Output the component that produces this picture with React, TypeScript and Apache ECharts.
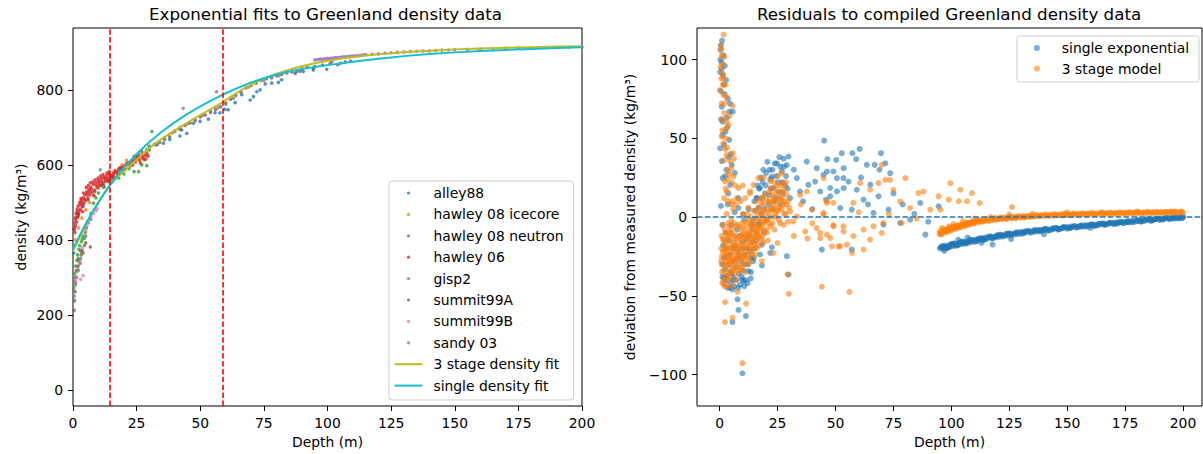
import React, { useEffect, useRef } from "react";
import * as echarts from "echarts";

const FONT = "DejaVu Sans, Liberation Sans, sans-serif";

// ---------- ticks ----------
const leftXTicks = [0, 25, 50, 75, 100, 125, 150, 175, 200];
const leftYTicks = [0, 200, 400, 600, 800];
const rightXTicks = [0, 25, 50, 75, 100, 125, 150, 175, 200];
const rightYTicks = [-100, -50, 0, 50, 100];
const transitionDepths = [14.6, 58.8];

// ---------- left panel: density data [depth m, density kg/m3] ----------
const alley88 = [[0.3,365],[2,470],[4,490],[6,507],[8.6,529],[11,545],[15,565],[18,585],[22,605],[26,625],[29,640],[32.9,653],[35.5,658],[38,668],[42.0,677],[42.7,693],[44.7,684],[47.3,711],[49.9,716],[53.2,722],[55.8,739],[57.7,739],[59.7,748],[61.0,747],[63.7,766],[66.3,787],[69.6,773],[70.9,782],[72.2,795],[73.5,800],[75.5,816],[78.1,818],[80.7,820],[82.0,827],[87.3,844],[89.2,850],[90.5,849],[94.4,853],[94.5,858],[99.7,855],[101.7,876],[105,871]];
const hawley08Icecore = [[1.0,400],[2.2,432],[3.5,458],[5.0,480],[6.5,500],[8.0,520],[10.0,538],[12.4,565],[14.0,556],[16.0,580],[17.5,575],[19.2,600],[21.0,612],[22.5,603],[24.5,624],[26.0,612],[27.5,630],[29.0,622]];
const hawley08Neutron = [[0.3,272],[0.5,290],[0.7,310],[0.9,300],[1.1,330],[1.3,318],[1.5,345],[1.8,360],[2.0,350],[2.3,375],[2.6,385],[3.0,370],[3.3,395],[3.6,402],[4.0,410],[4.4,404],[4.8,420],[5.2,432],[6.0,446],[7.0,470],[8.0,498],[9.0,512],[10.0,525],[12.0,546],[14.0,556],[16.0,568],[18.0,565],[20.0,576],[22.0,590],[24.0,582],[25.8,582],[25.1,622],[27.0,600],[28.0,614],[29.0,598],[30.0,640],[31.0,689]];
const hawley06 = [[0.4,428],[0.5,445],[0.7,420],[0.9,455],[1.0,438],[1.2,470],[1.4,448],[1.6,482],[1.8,460],[2.0,490],[2.2,470],[2.5,478],[2.8,495],[3.0,482],[3.3,505],[3.6,490],[4.0,512],[4.3,498],[4.7,520],[5.0,505],[5.4,528],[5.8,512],[6.2,535],[6.6,520],[7.0,540],[7.5,527],[8.0,548],[8.5,533],[9.0,552],[9.5,540],[10.0,558],[10.5,546],[11.0,562],[11.5,550],[12.0,566],[12.5,555],[13.0,570],[13.5,558],[14.0,575],[14.5,562],[15.0,572],[15.5,565],[16.0,578],[17.0,582],[18.0,588],[19.0,592],[20.0,597],[21.0,600],[22.0,606],[23.0,610],[24.0,612],[25.0,618],[26.0,614],[27.0,622],[28.0,625],[29.0,630],[20.5,588],[23.5,600],[26.5,605],[28.5,615],[17.5,573],[12.2,542],[8.2,518],[3.8,475],[0.6,432],[1.1,460],[1.5,475],[2.1,465],[2.6,500],[3.1,510],[3.5,498],[4.1,525],[4.5,508],[5.2,540],[5.6,522],[6.0,545],[6.4,528],[6.8,552],[7.2,535],[7.8,555],[8.7,560],[9.2,545],[9.8,565],[10.2,552],[10.8,570],[11.3,556],[11.8,574],[12.8,562],[13.3,578],[13.8,565],[14.2,582],[14.8,570],[15.8,572],[16.5,585],[17.3,578],[18.5,592],[19.5,586],[21.5,604],[22.5,598],[24.5,608],[25.5,622],[27.5,617],[29.5,624]];
const gisp2 = [[95,880],[96,881],[97,882],[98,882],[99,883],[100,884],[101,884],[102,885],[103,886],[104,886],[105,887],[106,888],[107,888],[108,889],[109,890],[110,890],[111,891],[112,891],[113,892],[114,893],[115,894],[117.5,895],[120,896],[122.5,897.5],[125,899],[127.5,900],[130,901],[132.5,902],[135,903],[137.5,903.5],[140,904],[142.5,905],[145,906],[147.5,906.5],[150,907],[155,908],[160,909],[165,910],[170,911],[175,911.5],[180,912],[185,912.5],[190,913],[195,913.5],[200,914]];
const summit99A = [[0.4,212],[0.6,238],[0.8,262],[1.0,285],[1.3,300],[1.6,318],[2.0,330],[2.4,345],[2.8,338],[3.2,360],[3.6,372],[4.0,365],[4.5,385],[5.0,392],[6.8,381],[18,590],[21,603],[24,622],[27,636],[30,648],[32,655],[34,660],[36,668],[38,675],[40,690],[42,695],[44,705],[46,712],[48,718],[50,728],[52,733],[54,740],[56,748],[58,755],[60,765],[62,775],[64,785],[66,795],[68,806],[70,812],[72,820],[74,825],[76,830],[78,835],[80,838],[82,842],[84,845],[86,848],[88,850],[90,856],[92,860],[95,862],[98,866],[101,870],[104,867],[107,875],[109,877]];
const summit99B = [[1.0,290],[1.5,300],[2.0,318],[2.5,340],[3.0,295],[3.5,378],[4.0,305],[4.5,410],[5,425],[5.5,438],[6,447],[6.5,455],[7,462],[8,470],[9,478],[9.5,483]];
const sandy03 = [[0.5,250],[1,280],[2,320],[3,350],[5,410],[7,455],[10.7,587],[12,540],[15,560],[18,585],[22,605],[26,628],[30,650],[33,655],[36,672],[39,685],[42,700],[43.3,751],[45,710],[48,720],[51,732],[54,745],[56.4,795],[57,752],[60,762],[63,778],[66,793],[69,808],[72,818],[75,826],[78,832],[81,838]];

// fitted curves [depth, density]
const threeStageFit = [[0,370],[2.5,405],[5,440],[7.5,472],[10,500],[12.5,527],[14.6,548],[17.5,567],[20,583],[25,614],[30,645],[35,670],[40,692],[45,713],[50,733],[55,752],[58.8,767],[62.5,784],[65,795],[70,814],[75,830],[80,843],[85,854],[90,863],[95,871],[100,877.5],[105,883],[110,887.5],[115,891.5],[120,895],[130,900.5],[140,904.5],[150,908],[160,910.5],[170,912.5],[180,914],[190,915.5],[200,916.5]];
const singleFit = [[0,375],[2.5,410],[5,443],[7.5,473],[10,500],[12.5,526],[15,550],[17.5,572],[20,592],[25,629],[30,661],[35,689],[40,714],[45,736],[50,756],[55,774],[60,791],[65,806],[70,820],[75,831],[80,841],[85,849],[90,856],[95,861],[100,866],[105,870.5],[110,875],[115,879],[120,883],[125,886.5],[130,890],[140,895.5],[150,900],[160,903.5],[170,906.5],[180,909],[190,911.5],[200,913.5]];

// ---------- right panel: residuals [depth m, deviation kg/m3] ----------
const singleSpike = [[0.45,109],[0.6,106.5],[1.6,102.6],[0.9,94.3],[0.2,92],[2.8,87],[0.45,80],[4.5,72],[0.9,70],[4.2,66.9],[5.6,66.9],[1.3,60.5],[2.5,54.2],[4.1,49],[0.2,43.6],[0.9,35.5],[5.2,33.1],[1.3,24.7],[4.5,20.4],[8.1,12],[1.0,112],[0.3,100],[2.2,96],[1.8,84],[3.5,75],[0.6,62],[3.3,57],[1.9,46],[4.8,40],[2.9,30],[6.5,28],[3.7,15],[0.5,7],[0.8,98],[1.5,90],[2.1,78],[3.0,63],[1.2,52],[3.8,38],[2.4,26]];
const singleLow = [[9.8,-99.2],[5.5,-66.7],[11.3,-62.9],[8.1,-59],[7.7,-52.3],[2.0,-38.6],[5.5,-46],[10.6,-43.9],[13.4,-39],[9.8,-39.7],[18.2,-30.8],[22.5,-19.2],[21.8,-22.8],[29,-24.9],[29.7,-36.5],[44.1,-20.7],[57.0,-20.7],[3.0,-37.4],[4.5,-44.8],[5.9,-38.5],[10.3,-40.6],[12.4,-34.3],[14.6,-25.9],[17.4,-23.8],[18.2,-17.5]];
const singleCore = [[1.0,-30],[1.5,-18],[2.0,-42],[2.5,-10],[3.0,-25],[3.5,-45],[4.0,-15],[4.5,-35],[5.0,-5],[5.5,-28],[6.0,-40],[6.5,-18],[7.0,-32],[7.5,-8],[8.0,-45],[8.5,-25],[9.0,-12],[9.5,-38],[10.0,-20],[10.5,-2],[11.0,-30],[11.5,-14],[12.0,-42],[12.5,5],[13.0,-22],[13.5,-35],[14.0,-8],[14.5,-28],[15.0,10],[15.5,-15],[16.0,12],[16.5,-5],[17.0,18],[17.4,18.4],[18.0,2],[18.5,22],[19.0,-10],[19.5,15],[20.0,28],[20.3,-1.7],[21.0,8],[21.5,30],[22.0,18],[22.5,25.6],[23.0,5],[23.2,18.4],[23.8,34],[24.2,12],[24.7,34],[25.2,22],[25.8,38],[26.3,8],[26.8,29],[27.3,15],[27.8,32],[28.3,20],[29,33],[29.7,38.4],[30.4,12],[8.1,5.7],[10.3,1.5],[13.9,-4.8],[16,12],[3.5,8],[6.5,3],[1.2,-5]];
const singleCore2 = [[1.2,-38],[1.8,-26],[2.3,-33],[2.8,-20],[3.3,-40],[3.8,-30],[4.3,-24],[4.8,-42],[5.3,-36],[5.8,-20],[6.3,-44],[6.8,-27],[7.3,-40],[7.8,-22],[8.3,-36],[8.8,-43],[9.3,-28],[9.8,-16],[10.3,-34],[10.8,-24],[11.3,-40],[11.8,-20],[12.3,-30],[12.8,-12],[13.3,-26],[13.8,-16],[14.3,-2],[14.8,-20],[15.3,4],[15.8,-10],[16.3,20],[16.8,6],[17.3,-4],[17.8,25],[18.3,12],[18.8,30],[19.3,5],[19.8,20],[20.6,35],[21.3,14],[21.9,24],[22.8,30],[23.5,10],[24.4,26],[25.5,16],[26.2,32],[27.0,22],[27.6,37],[28.6,26],[29.3,18]];
const singleMid = [[33.3,24.7],[34.7,16.2],[37.6,35.2],[38.3,20.4],[41.2,22.5],[41.9,31],[43.4,16.2],[45.1,48.5],[46.3,28.9],[47.7,13.1],[50.6,24.7],[53.5,18.3],[53.5,31],[60.4,43.2],[57.3,40.5],[69.6,40.5],[52.7,40.5],[46.5,36.7],[50.3,36.2],[58.9,36.7],[49.1,28.9],[63.5,33.1],[66.9,33.1],[71.5,34.1],[69.0,30],[73.6,27.8],[53.4,24.7],[55.6,22.5],[44.8,26.8],[47.7,18.4],[50.6,16.3],[59.2,17.3],[65.0,20.5],[68.6,13.1],[62.1,11],[57.0,4.7],[45.9,11],[52.0,5.7],[70.7,-4.8],[77.9,-3.8],[86.6,8.9],[88.8,-11.2],[94.5,6.8],[82.2,-1.7],[66.4,2.6],[72.9,4.7],[32,30],[36,10],[40,5],[75,15],[79,8],[84,2],[90,-3],[61,25],[64,8]];
const singleDeep = [[95,-20],[96,-19.5],[97,-19],[98,-18.8],[99,-18.2],[100,-18],[101,-17.5],[102,-17.3],[103,-17],[104,-16.7],[105,-16.3],[106.5,-16],[108,-15.4],[109.5,-15],[111,-14.6],[112.5,-14.1],[114,-13.7],[115.5,-13.3],[117,-12.9],[118.5,-12.5],[120,-12.1],[122,-11.6],[124,-11.2],[126,-10.8],[128,-10.4],[130,-10],[132,-9.6],[134,-9.3],[136,-8.9],[138,-8.6],[140,-8.3],[142,-8],[144,-7.7],[146,-7.4],[148,-7.1],[150,-6.8],[152,-6.5],[154,-6.2],[156,-5.9],[158,-5.6],[160,-5.3],[162,-5],[164,-4.8],[166,-4.5],[168,-4.2],[170,-4],[172,-3.7],[174,-3.4],[176,-3.2],[178,-2.9],[180,-2.6],[182,-2.4],[184,-2.1],[186,-1.9],[188,-1.6],[190,-1.4],[192,-1.1],[194,-0.9],[196,-0.6],[198,-0.4],[200,-0.2],[117.8,-17.5],[107,-13],[125.8,-14],[140,-11],[97,-21.5],[103,-14.5],[113,-16.5],[160,-7]];
const singleDeep2 = [[96,-18.5],[98,-19.8],[100,-17],[102,-18.3],[104,-15.8],[106,-17],[108,-14.5],[110,-15.8],[112,-13.5],[114,-14.5],[116,-12.5],[118,-13.4],[120,-11.4],[122,-12.4],[124,-10.5],[126,-11.5],[128,-9.8],[130,-10.7],[132,-9],[134,-10],[136,-8.3],[138,-9.2],[140,-7.7],[142,-8.6],[144,-7.1],[146,-8],[148,-6.5],[150,-7.4],[152,-6],[154,-6.8],[156,-5.4],[158,-6.2],[160,-4.8],[162,-5.6],[164,-4.3],[166,-5],[168,-3.7],[170,-4.5],[172,-3.2],[174,-3.9],[176,-2.7],[178,-3.4],[180,-2.1],[182,-2.9],[184,-1.6],[186,-2.4],[188,-1.1],[190,-1.9],[192,-0.6],[194,-1.4],[196,-0.1],[198,-0.9],[200,0.3],[97,-18.2],[99,-19.3],[101,-16.8],[103,-17.8],[105,-15.6],[107,-16.6],[109,-14.4],[111,-15.3],[113,-13.4],[115,-14.1],[117,-12.2],[119,-13],[121,-11.2],[123,-12],[125,-10.4],[127,-11.1],[129,-9.6],[131,-10.3],[133,-8.8],[135,-9.6],[137,-8.1],[139,-8.9],[141,-7.5],[143,-8.2],[145,-6.9],[147,-7.6],[149,-6.3],[151,-7],[153,-5.8],[155,-6.4],[157,-5.2],[159,-5.8],[161,-4.6],[163,-5.3],[165,-4.1],[167,-4.7],[169,-3.5],[171,-4.2],[173,-3],[175,-3.6],[177,-2.5],[179,-3.1],[181,-1.9],[183,-2.6],[185,-1.4],[187,-2.1],[189,-0.9],[191,-1.6],[193,-0.4],[195,-1.1],[197,0],[199,-0.6]];
const singleDeep3 = [[95.5,-19.2],[96.5,-20.3],[97.5,-18.6],[98.5,-19.4],[99.5,-17.6],[100.5,-18.6],[101.5,-16.9],[102.5,-17.9],[103.5,-16.3],[104.5,-17.1],[105.5,-15.7],[106,-16.5],[107.5,-15],[108.5,-15.9],[110.5,-14.3],[111.5,-15],[112,-13.8],[113.5,-14.6],[114.5,-13.1],[116.5,-12.8],[117.5,-13.6],[119.5,-12],[120.5,-12.7],[121.5,-11.5],[123.5,-11],[124.5,-11.8],[125.5,-10.7],[127.5,-10.2],[128.5,-10.9],[130.5,-9.5],[131.5,-10.1],[133.5,-9],[135.5,-8.6],[136.5,-9.3],[138.5,-8.1],[140.5,-7.8],[141.5,-8.4],[143.5,-7.3],[145.5,-7],[146.5,-7.6],[148.5,-6.6],[150.5,-6.4],[151.5,-7],[153.5,-5.9],[155.5,-5.6],[156.5,-6.2],[158.5,-5.1],[160.5,-4.9],[161.5,-5.5],[163.5,-4.4],[165.5,-4.2],[166.5,-4.8],[168.5,-3.8],[170.5,-3.5],[171.5,-4.1],[173.5,-3.1],[175.5,-2.9],[176.5,-3.5],[178.5,-2.5],[180.5,-2.2],[181.5,-2.8],[183.5,-1.8],[185.5,-1.6],[186.5,-2.2],[188.5,-1.2],[190.5,-1],[191.5,-1.6],[193.5,-0.6],[195.5,-0.4],[196.5,-1],[198.5,-0.2],[199.5,-0.7]];

const threeSpike = [[1.7,115.8],[0.2,106],[0.9,102.6],[2.0,101.6],[1.2,91.1],[1.6,88],[0.1,80.6],[1.6,77.5],[3.0,76.2],[5.6,70.6],[2.0,65.9],[3.0,60.5],[3.8,58.4],[0.9,51],[2.8,50],[1.6,46.8],[5.6,40.5],[3.0,39.4],[4.5,35.5],[3.8,29],[5.9,25.7],[2.3,22.6],[8.1,18.4],[3.0,16.2],[7.4,12],[0.6,109],[1.3,97],[2.5,84],[0.8,72],[4.2,64],[1.1,55],[2.4,43],[6.2,37],[4.9,31],[3.4,24],[6.8,20],[1.9,12],[5.1,8],[0.4,95],[1.4,84],[0.7,88],[2.2,72],[1.0,62],[2.6,56],[3.2,44],[1.8,36],[4.0,27],[2.6,18],[5.2,22],[3.6,10]];
const threeLow = [[9.8,-92.8],[2.3,-66.7],[5.5,-64],[11.4,-55],[2.3,-54],[2.8,-43.9],[7.7,-47.5],[5.2,-43.9],[18.2,-28.1],[23.2,-22.8],[24.9,-16.5],[29.3,-36.5],[29.8,-48.8],[44.1,-44.3],[56.0,-47.5],[37.9,-13.7]];
const threeCore = [[0.6,-28],[0.8,-12],[1.0,-35],[1.2,-5],[1.4,-22],[1.6,-40],[1.8,-15],[2.0,-30],[2.2,-8],[2.4,-25],[2.6,-38],[2.8,-18],[3.0,2],[3.2,-32],[3.4,-12],[3.6,-26],[3.8,-40],[4.0,-20],[4.2,-6],[4.4,-30],[4.6,-15],[4.8,-35],[5.0,-24],[5.2,-10],[5.4,-28],[5.6,-18],[5.8,5],[6.0,-33],[6.3,-22],[6.6,-12],[6.9,-28],[7.2,-36],[7.5,-18],[7.8,-5],[8.1,-25],[8.4,-14],[8.7,-30],[9.0,-20],[9.3,-8],[9.6,-26],[9.9,2],[10.2,-17],[10.5,-30],[10.8,-10],[11.1,-22],[11.4,-3],[11.7,-26],[12.0,-14],[12.3,6],[12.6,-20],[12.9,-9],[13.2,-28],[13.5,0],[13.8,-16],[14.1,-6],[14.4,-20],[14.7,4],[15.0,-12],[15.3,-24],[15.6,-2],[15.9,10],[16.2,-15],[16.5,-6],[16.8,6],[17.1,-18],[17.4,-8],[17.7,12],[18.0,2],[18.4,-12],[18.8,8],[19.2,-4],[19.6,14],[20.0,-8],[20.4,5],[20.8,-15],[21.2,10],[21.6,0],[22.0,18],[22.4,6],[22.8,-4],[23.2,12],[23.6,22],[24.0,2],[24.4,15],[24.8,8],[25.2,26],[25.6,-2],[26.0,12],[26.4,20],[26.8,5],[27.2,16],[27.6,-5],[28.0,10],[28.5,2],[29.0,14],[29.5,-3],[30.0,6],[5.5,10],[7.0,8],[9,10],[11,12],[13,15],[14.6,20.4],[16.7,24.7],[21.8,22.6],[13.1,16.3],[19,25],[10,20],[26.8,28]];
const threeCore2 = [[0.7,-20],[1.1,-42],[1.5,-30],[1.9,-22],[2.1,-44],[2.3,-16],[2.7,-28],[2.9,-10],[3.1,-20],[3.5,-36],[3.7,-4],[3.9,-28],[4.1,-12],[4.3,-38],[4.5,-22],[4.9,-8],[5.1,-31],[5.3,-19],[5.7,-26],[5.9,-12],[6.1,-4],[6.4,-29],[6.7,-20],[7.0,-14],[7.3,-24],[7.6,-31],[7.9,-12],[8.2,-20],[8.5,-6],[8.8,-22],[9.1,-33],[9.4,-15],[9.7,-11],[10.0,-24],[10.3,-7],[10.6,-20],[10.9,-27],[11.2,-13],[11.5,-18],[11.8,-6],[12.1,-24],[12.4,-11],[12.7,-2],[13.0,-18],[13.3,-12],[13.6,-22],[13.9,-4],[14.2,-14],[14.5,-9],[14.8,-17],[15.2,-5],[15.5,-19],[15.8,-9],[16.1,2],[16.4,-11],[16.7,-1],[17.0,-13],[17.3,4],[17.6,-5],[17.9,-14],[18.2,9],[18.6,-3],[19.0,4],[19.4,-9],[19.8,1],[20.2,11],[20.6,-2],[21.0,3],[21.4,16],[21.8,-6],[22.2,9],[22.6,14],[23.0,0],[23.4,6],[23.8,18],[24.2,10],[24.6,4],[25.0,20],[25.4,12],[25.8,6],[26.2,16],[26.6,10],[27.0,22],[27.4,8],[28.2,18],[28.8,8],[29.3,10]];
const threeCore3 = [[0.9,-25],[1.3,-14],[1.7,-34],[2.5,-20],[3.3,-24],[4.4,-10],[4.7,-28],[5.5,-34],[6.2,-16],[6.8,-6],[7.4,-26],[8.0,-34],[8.6,-18],[9.2,-25],[9.8,-4],[10.4,-13],[11.0,-35],[11.6,-10],[12.2,-30],[12.8,-16],[13.4,-5],[14.0,-24],[14.6,-13],[15.4,-8],[16.0,-20],[16.6,-12],[17.2,-1],[18.1,-7],[18.9,-16],[19.6,-2],[20.4,-10],[21.2,-4],[22.0,4],[22.8,10],[23.6,-8],[24.4,0],[25.2,4],[26.0,-4],[26.8,12],[27.8,2],[28.6,22],[3.0,-14],[5.0,-2],[7.0,-40],[9.5,-32],[12.0,2]];
const threeMid = [[70.0,33.1],[71.5,23.6],[73.6,23.6],[80.1,24.7],[60.6,21.5],[68.6,21.5],[44.8,24.7],[64.9,17.3],[75.0,17.3],[85.8,15.2],[88.0,16.2],[94.5,13.1],[99.6,21.5],[103.9,17.3],[108.9,15.2],[112.2,8.9],[126.1,6.3],[103.2,10],[106.8,10],[98.9,11],[90.9,4.7],[95.2,4.7],[46.3,9],[49.1,9],[57.7,9],[82.2,5.7],[77.9,9.9],[44.8,2.6],[49.1,-5.9],[53.4,-5.9],[57.7,-12.2],[62.1,-8],[66.4,-5.9],[70.7,-3.8],[78.6,-3.8],[48.4,-18.6],[54.9,-17.6],[62.1,-20.7],[57.1,-22.8],[52.0,-18.6],[64.9,-14.4],[69.9,-10.1],[43.4,-10.1],[46.3,-11.2],[31.8,-2.8],[36.9,-9.2],[41.9,-7.1],[47.7,-13.4],[51.3,-18.7],[49.1,-5.1],[37.6,16.2],[34.7,14],[30.4,3.6],[33.3,0.4],[39.8,4.6],[44.8,1.5],[53.5,-9.2],[43.4,-13.4],[46.3,9.9],[32,-12],[35,8],[40,-4],[73,2],[85,-1],[60,3]];
const threeDeep = [[95,-11],[95.5,-10],[96,-9.8],[97,-9],[98,-8.6],[99,-8],[100,-7.5],[101,-7],[102,-6.5],[103,-6],[104,-5.6],[105,-5.1],[106,-4.7],[107,-4.3],[108,-3.9],[109,-3.5],[110,-3.2],[111.5,-2.8],[113,-2.4],[114.5,-2.1],[116,-1.8],[118,-1.5],[120,-1.2],[122,-0.9],[124,-0.7],[126,-0.5],[128,-0.3],[130,-0.1],[132,0.1],[134,0.2],[136,0.4],[138,0.5],[140,0.6],[142,0.7],[144,0.8],[146,0.9],[148,1],[150,1.1],[152,1.2],[154,1.3],[156,1.4],[158,1.5],[160,1.6],[162,1.7],[164,1.7],[166,1.8],[168,1.9],[170,1.9],[172,2],[174,2.1],[176,2.1],[178,2.2],[180,2.2],[182,2.3],[184,2.3],[186,2.4],[188,2.4],[190,2.5],[192,2.5],[194,2.6],[196,2.6],[198,2.7],[200,2.7],[96,-7],[99,-6],[101,-4.5],[105,-2.5],[110,-1],[117,0],[125,1.5],[135,2],[150,3],[165,3],[180,3.5],[195,3.5]];
const threeDeep2 = [[95,-9],[96,-11],[97,-7.8],[98,-9.6],[99,-6.8],[100,-8.4],[101,-6],[102,-7.4],[103,-5.2],[104,-6.4],[105,-4.4],[106,-5.6],[107,-3.6],[108,-4.8],[109,-2.9],[110,-4],[111,-2.3],[112,-3.3],[113,-1.8],[114,-2.8],[115,-1.4],[116,-2.4],[117,-1],[118,-2],[119,-0.7],[120,-1.6],[121,-0.4],[122,-1.3],[123,-0.2],[124,-1],[125,0.1],[126,-0.7],[127,0.3],[128,-0.5],[129,0.5],[130,-0.3],[131,0.7],[132,-0.1],[133,0.8],[134,0.1],[135,1],[137,1.1],[139,1.2],[141,1.3],[143,1.5],[145,1.6],[147,1.7],[149,1.8],[151,1.9],[153,2],[155,2.1],[157,2.2],[159,2.3],[161,2.3],[163,2.4],[165,2.5],[167,2.6],[169,2.6],[171,2.7],[173,2.8],[175,2.8],[177,2.9],[179,2.9],[181,3],[183,3],[185,3.1],[187,3.1],[189,3.2],[191,3.2],[193,3.3],[195,3.3],[197,3.4],[199,3.4]];
const threeDeep3 = [[95.2,-10.5],[96.5,-8.6],[97.5,-9.5],[98.5,-7.6],[99.5,-8.6],[100.5,-6.6],[101.5,-7.4],[102.5,-5.6],[103.5,-6.6],[104.5,-4.8],[105.5,-5.6],[106.5,-4],[107.5,-4.8],[108.5,-3.3],[109.5,-4.1],[110.5,-2.6],[112,-2.2],[113.5,-2.9],[115,-1.6],[116.5,-2.2],[118.5,-1],[119.5,-1.7],[121.5,-0.6],[123.5,-1.1],[125.5,-0.2],[127.5,-0.8],[129.5,0.2],[131.5,-0.3],[133.5,0.5],[135.5,0.3],[136.5,1.2],[138.5,0.8],[140.5,1.5],[142.5,1],[144.5,1.8],[146.5,1.2],[148.5,2],[150.5,1.5],[152.5,2.2],[154.5,1.7],[156.5,2.4],[158.5,1.9],[160.5,2.6],[162.5,2.1],[164.5,2.7],[166.5,2.2],[168.5,2.8],[170.5,2.4],[172.5,2.9],[174.5,2.5],[176.5,3],[178.5,2.6],[180.5,3.1],[182.5,2.7],[184.5,3.2],[186.5,2.8],[188.5,3.3],[190.5,2.9],[192.5,3.3],[194.5,3],[196.5,3.4],[198.5,3],[199.5,3.5]];

// ---------- styling ----------
const C = {
  blue: "#1f77b4", orange: "#ff7f0e", green: "#2ca02c", red: "#d62728",
  purple: "#9467bd", brown: "#8c564b", pink: "#e377c2", grey: "#7f7f7f",
  olive: "#bcbd22", cyan: "#17becf",
};

const ICON_W = 33.8;
const dotIcon = (r: number, h: number) =>
  `path://M0,0M${ICON_W},${h}M${13.9 - r},${h / 2}a${r},${r} 0 1,0 ${2 * r},0a${r},${r} 0 1,0 ${-2 * r},0`;
const lineIcon = (h: number) =>
  `path://M0,0M${ICON_W},${h}M0,${h / 2 - 1}L27.8,${h / 2 - 1}L27.8,${h / 2 + 1}L0,${h / 2 + 1}Z`;

const minusFmt = (v: number) => (v < 0 ? "\u2212" + Math.abs(v) : String(v));

const textBase = { fontFamily: FONT, fontSize: 13.9, color: "#000" };

function axisCommon(ticks: number[]) {
  return {
    type: "value" as const,
    axisLine: { show: false, onZero: false },
    splitLine: { show: false },
    axisTick: { show: true, length: 5, lineStyle: { color: "#000", width: 1 }, customValues: ticks },
    axisLabel: { ...textBase, margin: 10, formatter: minusFmt, customValues: ticks },
    nameLocation: "middle" as const,
    nameTextStyle: { ...textBase },
  };
}

const leftSets = [
  { name: "alley88", data: alley88, color: C.blue },
  { name: "hawley 08 icecore", data: hawley08Icecore, color: C.orange },
  { name: "hawley 08 neutron", data: hawley08Neutron, color: C.green },
  { name: "hawley 06", data: hawley06, color: C.red },
  { name: "gisp2", data: gisp2, color: C.purple },
  { name: "summit99A", data: summit99A, color: C.brown },
  { name: "summit99B", data: summit99B, color: C.pink },
  { name: "sandy 03", data: sandy03, color: C.grey },
];

function buildOption() {
  const series: any[] = [];
  leftSets.forEach((s) => {
    series.push({
      name: s.name, type: "scatter", xAxisIndex: 0, yAxisIndex: 0,
      data: s.data, symbolSize: 3.5, itemStyle: { color: s.color },
      silent: true,
    });
  });
  series.push({
    name: "3 stage density fit", type: "line", xAxisIndex: 0, yAxisIndex: 0,
    data: threeStageFit, symbol: "none", smooth: false,
    lineStyle: { color: C.olive, width: 2 }, itemStyle: { color: C.olive }, silent: true,
  });
  series.push({
    name: "single density fit", type: "line", xAxisIndex: 0, yAxisIndex: 0,
    data: singleFit, symbol: "none",
    lineStyle: { color: C.cyan, width: 2 }, itemStyle: { color: C.cyan }, silent: true,
    markLine: {
      silent: true, symbol: ["none", "none"], label: { show: false }, animation: false,
      lineStyle: { color: "#ff0000", type: [5.5, 2.4], width: 1.6 },
      data: transitionDepths.map((v) => ({ xAxis: v })),
    },
  });
  series.push({
    name: "single exponential", type: "scatter", xAxisIndex: 1, yAxisIndex: 1,
    data: [...singleSpike, ...singleLow, ...singleCore, ...singleCore2, ...singleMid, ...singleDeep, ...singleDeep2, ...singleDeep3],
    symbolSize: 6, itemStyle: { color: C.blue, opacity: 0.6 }, silent: true,
  });
  series.push({
    name: "3 stage model", type: "scatter", xAxisIndex: 1, yAxisIndex: 1,
    data: [...threeSpike, ...threeLow, ...threeCore, ...threeCore2, ...threeCore3, ...threeMid, ...threeDeep, ...threeDeep2, ...threeDeep3],
    symbolSize: 6, itemStyle: { color: C.orange, opacity: 0.6 }, silent: true,
    markLine: {
      silent: true, symbol: ["none", "none"], label: { show: false }, animation: false,
      lineStyle: { color: C.blue, type: [5.5, 2.4], width: 1.6, opacity: 1 },
      data: [{ yAxis: 0 }],
    },
  });

  const legendCommon = {
    orient: "vertical" as const,
    itemWidth: ICON_W,
    selectedMode: false,
    backgroundColor: "rgba(255,255,255,0.8)",
    borderColor: "#cccccc",
    borderWidth: 1,
    borderRadius: 3,
    textStyle: { ...textBase },
    itemStyle: { borderWidth: 0 },
  };

  return {
    animation: false,
    textStyle: { fontFamily: FONT },
    title: [
      { text: "Exponential fits to Greenland density data", left: 149, top: 5, padding: 0,
        textStyle: { fontFamily: FONT, fontSize: 16.7, fontWeight: "normal", color: "#000" } },
      { text: "Residuals to compiled Greenland density data", left: 757, top: 5, padding: 0,
        textStyle: { fontFamily: FONT, fontSize: 16.7, fontWeight: "normal", color: "#000" } },
    ],
    grid: [
      { left: 73, top: 28, width: 509, height: 378, show: true, borderColor: "#000", borderWidth: 1, backgroundColor: "transparent" },
      { left: 697, top: 28, width: 505, height: 378, show: true, borderColor: "#000", borderWidth: 1, backgroundColor: "transparent" },
    ],
    xAxis: [
      { ...axisCommon(leftXTicks), gridIndex: 0, min: 0, max: 200, name: "Depth (m)", nameGap: 27 },
      { ...axisCommon(rightXTicks), gridIndex: 1, min: -9.8, max: 208.2, name: "Depth (m)", nameGap: 27 },
    ],
    yAxis: [
      { ...axisCommon(leftYTicks), gridIndex: 0, min: -43, max: 965, name: "density (kg/m³)", nameGap: 45 },
      { ...axisCommon(rightYTicks), gridIndex: 1, min: -120, max: 120, name: "deviation from measured density (kg/m³)", nameGap: 60 },
    ],
    legend: [
      {
        ...legendCommon,
        left: 389, top: 181, itemHeight: 4, itemGap: 7.4,
        padding: [5, 10, 7.4, 5.6],
        data: [
          ...leftSets.map((s) => ({ name: s.name, icon: dotIcon(1.6, 4), itemStyle: { color: s.color } })),
          { name: "3 stage density fit", icon: lineIcon(4), itemStyle: { color: C.olive } },
          { name: "single density fit", icon: lineIcon(4), itemStyle: { color: C.cyan } },
        ],
      },
      {
        ...legendCommon,
        left: 1017, top: 36, itemHeight: 6, itemGap: 6.5,
        padding: [5, 10, 6.5, 6],
        data: [
          { name: "single exponential", icon: dotIcon(3, 6), itemStyle: { color: C.blue, opacity: 0.6 } },
          { name: "3 stage model", icon: dotIcon(3, 6), itemStyle: { color: C.orange, opacity: 0.6 } },
        ],
      },
    ],
    series,
  };
}

export default function App() {
  const ref = useRef<HTMLDivElement>(null);
  useEffect(() => {
    document.body.style.margin = "0";
    const chart = echarts.init(ref.current as HTMLDivElement, undefined, { renderer: "svg" });
    chart.setOption(buildOption() as any);
    return () => chart.dispose();
  }, []);
  return <div ref={ref} style={{ width: 1203, height: 454 }} />;
}
